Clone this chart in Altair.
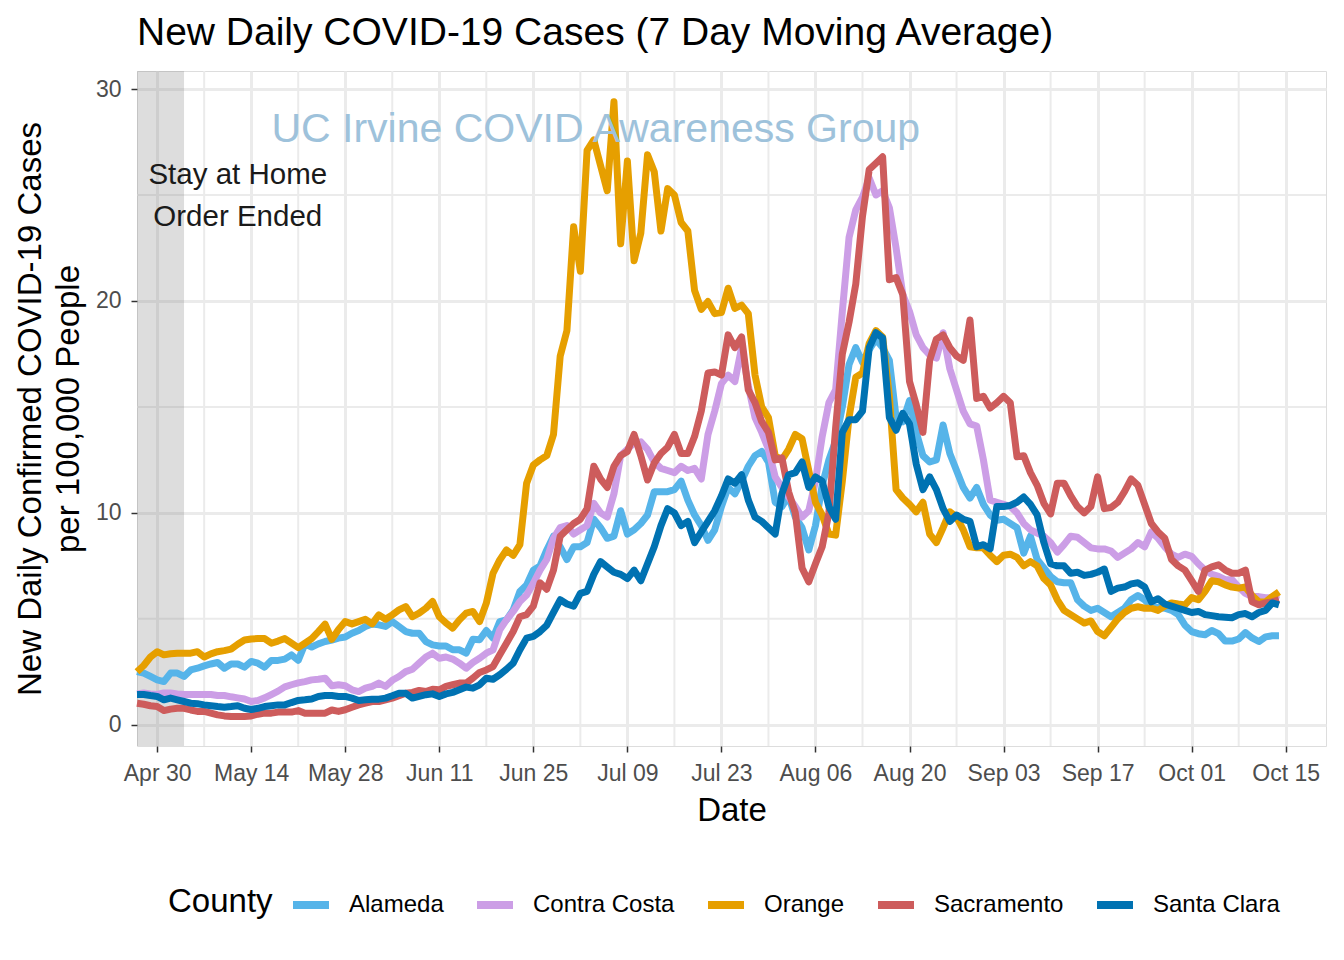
import altair as alt
import pandas as pd

FONT = "Liberation Sans"

dates = pd.date_range("2020-04-27", "2020-10-14", freq="D").strftime("%Y-%m-%d").tolist()
counties = ["Alameda", "Contra Costa", "Orange", "Sacramento", "Santa Clara"]
colors = ["#56B4E9", "#CC9EE6", "#E69F00", "#CD5C5C", "#0072B2"]

alameda = [2.51, 2.44, 2.28, 2.12, 2.04, 2.44, 2.44, 2.28, 2.59, 2.67, 2.78, 2.87, 2.94, 2.67, 2.87, 2.87, 2.72, 2.99, 2.91, 2.72, 3.04, 3.04, 3.10, 3.30, 3.04, 3.82, 3.67, 3.82, 3.93, 4.00,
           4.09, 4.14, 4.32, 4.45, 4.64, 4.76, 4.72, 4.64, 4.87, 4.64, 4.40, 4.32, 4.32, 3.93, 3.77, 3.72, 3.72, 3.54, 3.54, 3.38, 4.04, 4.01, 4.45, 4.09, 4.87, 4.95, 5.42, 6.29, 6.60, 7.30,
           7.5, 8.25, 8.9, 8.4, 7.8, 8.4, 8.4, 8.6, 9.7, 9.3, 8.8, 8.9, 10.1, 9.0, 9.2, 9.5, 9.9, 11.0, 11.0, 11.0, 11.1, 11.5, 10.6, 9.9, 9.4, 8.7, 9.2, 10.3, 11.2, 10.9,
           11.5, 12.2, 12.7, 12.9, 12.4, 10.5, 10.3, 10.8, 9.8, 9.3, 8.25, 9.4, 11.3, 12.5, 13.4, 15.0, 17.0, 17.8, 17.1, 17.7, 18.2, 17.8, 17.2, 14.5, 14.3, 15.3, 13.8, 12.7, 12.4, 12.5,
           14.15, 12.8, 12.0, 11.2, 10.7, 11.2, 10.4, 9.9, 9.65, 9.7, 9.5, 9.3, 8.1, 8.9, 7.8, 7.4, 7.0, 6.75, 6.7, 6.7, 5.9, 5.6, 5.4, 5.5, 5.3, 5.1, 5.3, 5.5, 5.9, 6.1,
           5.9, 5.57, 5.55, 5.5, 5.4, 5.2, 4.7, 4.4, 4.3, 4.25, 4.45, 4.3, 3.95, 3.95, 4.05, 4.35, 4.1, 3.93, 4.15, 4.2, 4.2]

contra_costa = [1.46, 1.5, 1.46, 1.43, 1.5, 1.5, 1.46, 1.43, 1.43, 1.43, 1.43, 1.43, 1.38, 1.38, 1.32, 1.27, 1.22, 1.1, 1.15, 1.27, 1.43, 1.59, 1.79, 1.89, 1.98, 2.04, 2.12, 2.15, 2.2, 1.84,
                1.89, 1.84, 1.65, 1.57, 1.73, 1.81, 1.97, 1.81, 2.1, 2.28, 2.51, 2.62, 2.91, 3.2, 3.38, 3.14, 3.2, 3.1, 2.91, 2.67, 2.94, 3.14, 3.38, 3.54, 4.48, 4.95, 5.35, 5.82, 6.13, 6.68,
                7.3, 7.8, 8.8, 9.3, 9.4, 9.0, 9.2, 9.4, 10.45, 10.0, 9.8, 10.9, 12.7, 13.0, 13.3, 13.35, 13.0, 12.4, 12.1, 12.0, 11.9, 12.2, 12.0, 12.1, 11.6, 13.7, 14.8, 16.1, 16.5, 16.2,
                17.8, 16.0, 14.5, 13.8, 13.0, 11.7, 11.2, 10.75, 10.3, 9.8, 10.1, 11.5, 13.6, 15.2, 15.8, 19.5, 23.0, 24.3, 24.9, 25.8, 25.0, 25.2, 24.4, 22.5, 20.3, 19.5, 18.4, 17.8, 17.45, 17.3,
                18.5, 16.8, 15.8, 14.8, 14.2, 14.1, 12.5, 10.6, 10.5, 10.4, 10.3, 10.0, 9.5, 9.2, 9.05, 8.9, 8.6, 8.15, 8.5, 8.9, 8.85, 8.6, 8.35, 8.3, 8.3, 8.2, 7.9, 8.1, 8.3, 8.6,
                8.4, 9.1, 8.8, 8.4, 8.05, 7.9, 8.05, 7.95, 7.6, 7.3, 7.1, 7.0, 6.85, 6.85, 6.5, 6.2, 6.05, 6.05, 6.0, 6.0, 5.9]

orange = [2.5, 2.8, 3.2, 3.45, 3.3, 3.35, 3.38, 3.38, 3.38, 3.45, 3.2, 3.35, 3.45, 3.5, 3.57, 3.8, 4.0, 4.05, 4.07, 4.07, 3.85, 3.95, 4.07, 3.85, 3.64, 3.85, 4.07, 4.4, 4.75, 4.03,
          4.5, 4.87, 4.76, 4.87, 4.98, 4.76, 5.19, 4.98, 5.19, 5.42, 5.58, 5.1, 5.27, 5.5, 5.82, 5.1, 4.8, 4.56, 4.95, 5.27, 5.35, 4.87, 5.74, 7.15, 7.78, 8.25, 8.0, 8.5, 11.4, 12.26,
          12.5, 12.7, 13.7, 17.4, 18.6, 23.5, 21.4, 27.1, 27.6, 26.4, 25.2, 29.4, 22.7, 26.6, 21.9, 23.2, 26.9, 26.1, 23.3, 25.3, 25.0, 23.7, 23.3, 20.5, 19.6, 19.97, 19.4, 19.45, 20.6, 19.65,
          19.8, 19.4, 16.5, 15.0, 14.5, 12.7, 12.5, 13.0, 13.7, 13.5, 12.0, 10.5, 9.9, 9.0, 8.95, 11.5, 14.5, 16.4, 16.6, 18.0, 18.6, 18.3, 15.5, 11.1, 10.7, 10.4, 10.05, 10.5, 9.0, 8.6,
          9.3, 10.05, 9.8, 9.2, 8.4, 8.35, 8.35, 8.0, 7.7, 8.0, 8.05, 7.9, 7.5, 7.7, 7.5, 6.9, 6.6, 5.9, 5.4, 5.2, 5.0, 4.8, 4.9, 4.4, 4.2, 4.6, 5.0, 5.3, 5.5, 5.57,
          5.5, 5.5, 5.4, 5.6, 5.75, 5.7, 5.66, 6.0, 5.9, 6.3, 6.8, 6.75, 6.6, 6.5, 6.45, 6.5, 6.1, 5.8, 5.8, 6.05, 6.27]

sacramento = [1.02, 0.97, 0.9, 0.86, 0.67, 0.74, 0.78, 0.78, 0.7, 0.63, 0.63, 0.55, 0.47, 0.42, 0.39, 0.39, 0.39, 0.42, 0.5, 0.55, 0.55, 0.6, 0.6, 0.6, 0.67, 0.55, 0.55, 0.55, 0.55, 0.7,
              0.63, 0.71, 0.83, 0.94, 1.02, 1.1, 1.1, 1.18, 1.26, 1.37, 1.49, 1.53, 1.62, 1.57, 1.68, 1.65, 1.81, 1.89, 1.97, 1.97, 2.2, 2.47, 2.59, 2.75, 3.3, 3.85, 4.4, 5.1, 5.2, 5.6,
              6.7, 6.4, 7.3, 8.9, 9.2, 9.5, 9.7, 10.2, 12.2, 11.6, 11.2, 12.2, 12.7, 12.9, 13.7, 12.7, 11.55, 12.35, 12.8, 13.1, 13.7, 12.8, 12.8, 13.6, 14.8, 16.6, 16.65, 16.5, 18.4, 17.8,
              18.3, 15.8, 15.2, 14.3, 13.8, 12.5, 12.6, 11.0, 10.0, 7.4, 6.75, 7.6, 8.4, 10.0, 14.0, 17.5, 19.0, 20.8, 24.0, 26.2, 26.5, 26.8, 21.0, 21.1, 20.3, 16.2, 15.1, 13.8, 17.2, 18.2,
              18.4, 17.8, 17.4, 17.2, 19.1, 15.4, 15.5, 14.95, 15.2, 15.5, 15.2, 12.65, 12.7, 11.9, 11.3, 10.45, 9.95, 11.4, 11.4, 10.8, 10.3, 10.0, 10.3, 11.7, 10.2, 10.25, 10.5, 11.0, 11.6, 11.3,
              10.4, 9.5, 9.1, 8.8, 7.8, 7.5, 7.3, 6.8, 6.3, 7.3, 7.45, 7.55, 7.3, 7.15, 7.15, 7.3, 5.8, 5.66, 5.75, 5.8, 5.9]

santa_clara = [1.43, 1.43, 1.38, 1.34, 1.18, 1.26, 1.18, 1.1, 1.02, 0.99, 0.94, 0.9, 0.86, 0.83, 0.86, 0.9, 0.78, 0.72, 0.78, 0.86, 0.9, 0.94, 0.94, 1.05, 1.15, 1.18, 1.22, 1.34, 1.38, 1.38,
               1.34, 1.34, 1.26, 1.15, 1.18, 1.21, 1.21, 1.26, 1.37, 1.49, 1.49, 1.26, 1.34, 1.42, 1.46, 1.34, 1.46, 1.53, 1.65, 1.78, 1.73, 1.89, 2.2, 2.15, 2.36, 2.62, 2.91, 3.54, 4.09, 4.17,
               4.4, 4.7, 5.3, 5.9, 5.7, 5.6, 6.2, 6.3, 7.1, 7.7, 7.45, 7.2, 7.1, 6.9, 7.3, 6.8, 7.6, 8.4, 9.4, 10.2, 10.0, 9.4, 9.6, 8.6, 9.1, 9.6, 10.1, 10.8, 11.6, 11.4,
               11.8, 10.6, 9.8, 9.6, 9.3, 9.0, 10.9, 11.8, 11.9, 12.4, 11.2, 11.7, 11.5, 10.3, 9.7, 13.8, 14.4, 14.4, 14.8, 17.8, 18.5, 18.25, 14.5, 13.9, 14.7, 14.2, 12.3, 11.1, 11.7, 11.1,
               10.2, 9.6, 9.9, 9.7, 9.6, 8.4, 8.5, 8.3, 10.3, 10.3, 10.35, 10.5, 10.75, 10.4, 9.9, 8.6, 7.6, 7.5, 7.5, 7.15, 7.2, 7.05, 7.1, 7.2, 7.35, 6.3, 6.45, 6.5, 6.65, 6.7,
               6.5, 5.8, 5.95, 5.7, 5.6, 5.5, 5.4, 5.3, 5.35, 5.2, 5.15, 5.1, 5.08, 5.05, 5.2, 5.25, 5.1, 5.3, 5.4, 5.75, 5.66]

series = [alameda, contra_costa, orange, sacramento, santa_clara]

x_domain = ["2020-04-27", "2020-10-21"]
y_domain = [-1.0, 30.85]
x_ticks = ["2020-04-30", "2020-05-14", "2020-05-28", "2020-06-11", "2020-06-25", "2020-07-09", "2020-07-23",
           "2020-08-06", "2020-08-20", "2020-09-03", "2020-09-17", "2020-10-01", "2020-10-15"]
x_minor = ["2020-05-07", "2020-05-21", "2020-06-04", "2020-06-18", "2020-07-02", "2020-07-16",
           "2020-07-30", "2020-08-13", "2020-08-27", "2020-09-10", "2020-09-24", "2020-10-08"]
y_ticks = [0, 10, 20, 30]
y_minor = [5, 15, 25]
order_period = ["2020-04-27", "2020-05-04"]
order_label = {"date": "2020-05-12", "cases": 25.94, "label": "Stay at Home\nOrder Ended"}
watermark = {"date": "2020-07-04T07:00:00", "cases": 28.07, "label": "UC Irvine COVID Awareness Group"}


def ms(d):
    return int(pd.Timestamp(d, tz="UTC").value // 10**6)


rows = []
for name, vals in zip(counties, series):
    for d, v in zip(dates, vals):
        rows.append({"date": d, "county": name, "cases": v})
df = pd.DataFrame(rows)

xscale = alt.Scale(type="utc", domain=[ms(d) for d in x_domain], nice=False)
yscale = alt.Scale(domain=y_domain, nice=False, zero=False)

xaxis = alt.Axis(values=[ms(d) for d in x_ticks], labelExpr="utcFormat(datum.value, '%b %d')",
                 title="Date", titleFontSize=33, titleFont=FONT, titleFontWeight="normal", titleColor="black",
                 titlePadding=9, labelFontSize=23, labelFont=FONT, labelColor="#4D4D4D", labelPadding=10,
                 tickSize=6, tickColor="#333333", tickWidth=1.5, domain=False,
                 grid=True, gridColor="#EBEBEB", gridWidth=3, labelFlush=False)
yaxis = alt.Axis(values=y_ticks, title=["New Daily Confirmed COVID-19 Cases", "per 100,000 People"],
                 titleFontSize=33, titleFont=FONT, titleFontWeight="normal", titleColor="black",
                 titleLineHeight=38, titleX=-107, titleY=337.5, titleAngle=270, titleBaseline="middle",
                 titleAlign="center",
                 labelFontSize=23, labelFont=FONT, labelColor="#4D4D4D", labelPadding=10,
                 tickSize=6, tickColor="#333333", tickWidth=1.5, domain=False,
                 grid=True, gridColor="#EBEBEB", gridWidth=3)


def X(field="date"):
    return alt.X(f"{field}:T", scale=xscale, axis=xaxis)


def Y(field="cases"):
    return alt.Y(f"{field}:Q", scale=yscale, axis=yaxis)


minor_x = alt.Chart(pd.DataFrame({"date": x_minor})).mark_rule(color="#EBEBEB", strokeWidth=2).encode(x=X())
minor_y = alt.Chart(pd.DataFrame({"cases": y_minor})).mark_rule(color="#EBEBEB", strokeWidth=2).encode(y=Y())

band = alt.Chart(pd.DataFrame({"date": [order_period[0]], "date2": [order_period[1]]})).mark_rect(
    color="#808080", opacity=0.27, clip=True).encode(x=X(), x2="date2:T")

lines = alt.Chart(df).mark_line(strokeWidth=7, strokeJoin="round").encode(
    x=X(), y=Y(),
    color=alt.Color("county:N", scale=alt.Scale(domain=counties, range=colors),
                    legend=alt.Legend(orient="none", legendX=31, legendY=812, direction="horizontal",
                                      title="County", titleOrient="left", titleFontSize=33, titleFont=FONT,
                                      titleFontWeight="normal", titleColor="black", titlePadding=16,
                                      labelFontSize=24, labelFont=FONT, labelColor="black", labelOffset=16,
                                      columnPadding=17, symbolType="stroke", symbolStrokeWidth=8,
                                      symbolSize=1296)),
    detail="county:N",
)

order_text = alt.Chart(pd.DataFrame([order_label])).mark_text(
    fontSize=29.5, font=FONT, color="#1A1A1A", lineBreak="\n", lineHeight=42, align="center", baseline="middle"
).encode(x=X(), y=Y(), text="label:N")

wm_text = alt.Chart(pd.DataFrame([watermark])).mark_text(
    fontSize=41, font=FONT, color="#9EC2DB", align="center", baseline="middle"
).encode(x=X(), y=Y(), text="label:N")

chart = alt.layer(minor_x, minor_y, band, lines, order_text, wm_text).properties(
    width=1189, height=675,
    title=alt.TitleParams("New Daily COVID-19 Cases (7 Day Moving Average)", anchor="start", frame="group",
                          fontSize=39, font=FONT, fontWeight="normal", color="black", offset=17),
    autosize=alt.AutoSizeParams(type="none"),
    padding={"left": 129, "top": 63, "right": 10, "bottom": 206},
).configure_view(stroke="#333333", strokeWidth=1.5).configure(background="white")

chart.save("out.html", embed_options={"renderer": "svg", "actions": False})
